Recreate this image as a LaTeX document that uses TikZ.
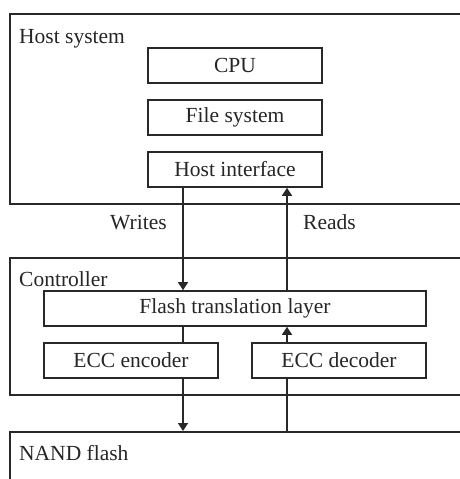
\documentclass[tikz,border=0pt]{standalone}
\usepackage{fontspec}
\setmainfont{Liberation Serif}
\usetikzlibrary{arrows.meta}
\definecolor{myline}{RGB}{40,40,40}

\tikzset{
    block/.style={draw=myline, line width=1.6pt, minimum width=174pt,
        minimum height=35pt, inner sep=0pt},
    frame/.style={draw=myline, line width=1.6pt, anchor=north west, inner sep=0pt},
    flow/.style={draw=myline, line width=1.5pt},
    flowarrow/.style={flow, -{Triangle[length=8pt, width=10pt]}},
    caption/.style={anchor=base west, inner sep=0pt},
}

\begin{document}
\begin{tikzpicture}[x=1pt, y=-1pt, font=\fontsize{21.5}{24}\selectfont, text=black!85]
    \clip (0, 0) rectangle (460, 479);
    \fill[white] (0, 0) rectangle (460, 479);

    % Host side
    \node[frame, minimum width=480pt, minimum height=190pt] (host) at (9, 13) {};
    \node[caption] (hostlabel) at (19, 43) {Host system};
    \node[block] (cpu) at (235, 65.5) {CPU};
    \node[block] (fs) at (235, 117.5) {File system};
    \node[block] (hif) at (235, 169.5) {Host interface};

    % Controller
    \node[frame, minimum width=480pt, minimum height=137pt] (ctrl) at (9, 257) {};
    \node[caption] (ctrllabel) at (19, 286) {Controller};
    \node[block, minimum width=382pt] (ftl) at (235, 308.5) {Flash translation layer};
    \node[block] (enc) at (131, 360.5) {ECC encoder};
    \node[block] (dec) at (339, 360.5) {ECC decoder};

    % Flash
    \node[frame, minimum width=480pt, minimum height=100pt] (nand) at (9, 431) {};
    \node[caption] (nandlabel) at (19, 460) {NAND flash};

    % Data paths
    \coordinate (wx) at (183, 0);
    \coordinate (rx) at (287, 0);
    \draw[flowarrow] (hif.south -| wx) -- (ftl.north -| wx);
    \draw[flowarrow] (ftl.north -| rx) -- (hif.south -| rx);
    \draw[flow] (ftl.south -| wx) -- (enc.north -| wx);
    \draw[flowarrow] (dec.north -| rx) -- (ftl.south -| rx);
    \draw[flowarrow] (enc.south -| wx) -- (nand.north -| wx);
    \draw[flow] (nand.north -| rx) -- (dec.south -| rx);
    \node[caption] (writes) at (110, 229) {Writes};
    \node[caption] (reads) at (303, 229) {Reads};
\end{tikzpicture}
\end{document}
